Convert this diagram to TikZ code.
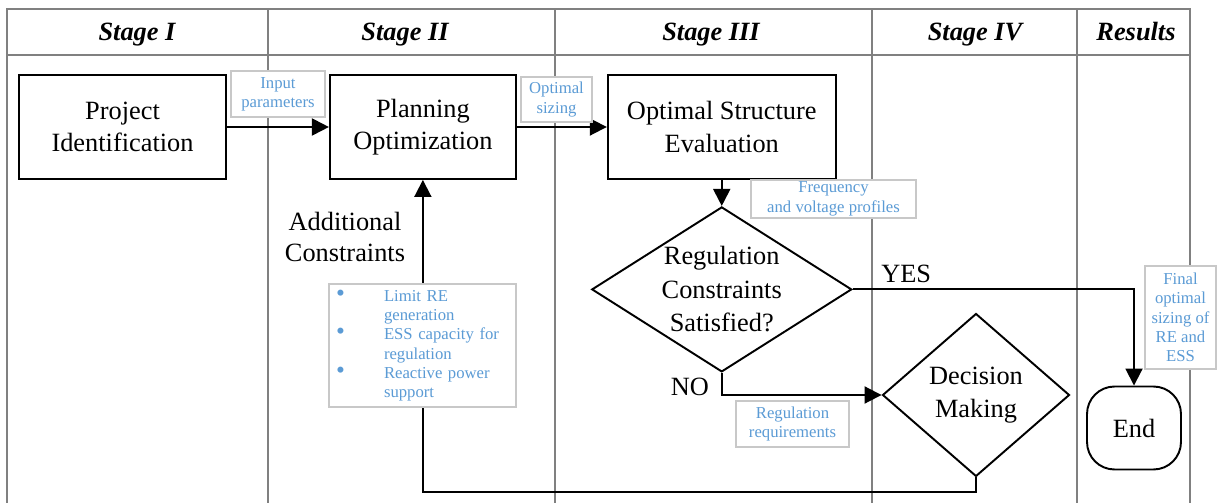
\documentclass[tikz,border=0pt]{standalone}
\usepackage{fontspec}
\setmainfont{Liberation Serif}
\usetikzlibrary{arrows.meta, positioning, shapes.geometric}
\definecolor{noteblue}{RGB}{91,155,213}
\definecolor{lanegray}{RGB}{128,128,128}
\definecolor{notegray}{RGB}{200,200,200}

\begin{document}
\begin{tikzpicture}[
    x=0.02cm, y=-0.02cm,
    lane/.style={draw=lanegray, line width=1pt},
    header/.style={anchor=base, font=\fontsize{15}{18}\selectfont\bfseries\itshape},
    process/.style={
        rectangle, draw, line width=1.1pt, fill=white,
        minimum height=2.08cm, align=center,
        font=\fontsize{15}{18.5}\selectfont
    },
    decision/.style={
        diamond, draw, line width=1.1pt, fill=white,
        inner sep=0pt, align=center,
        font=\fontsize{15}{19}\selectfont
    },
    terminal/.style={
        rectangle, rounded corners=0.55cm, draw, line width=1.1pt,
        minimum width=1.88cm, minimum height=1.66cm,
        font=\fontsize{15}{18}\selectfont
    },
    note/.style={
        rectangle, draw=notegray, line width=1pt, fill=white,
        text=noteblue, align=center, inner sep=1pt,
        font=\fontsize{9.5}{11}\selectfont
    },
    plain/.style={align=center, font=\fontsize{15}{17.6}\selectfont},
    arrow/.style={-{Triangle[length=0.34cm, width=0.34cm]}, line width=1.1pt},
]

\useasboundingbox (0,0) rectangle (1217,503);

% swimlanes
\draw[lane] (7,503) -- (7,9) -- (1190,9) -- (1190,503);
\draw[lane] (7,55) -- (1190,55);
\foreach \x in {268, 555, 872, 1077}
    \draw[lane] (\x,9) -- (\x,503);

\foreach \x/\lbl in {137/Stage I, 405/Stage II, 711/Stage III, 975/Stage IV, 1136/Results}
    \node[header] (head\x) at (\x,41) {\lbl};

% steps
\node[process, minimum width=4.14cm] (ident) at (122.5,127) {Project\\Identification};
\node[process, minimum width=3.72cm, right=2.04cm of ident] (plan) {Planning\\Optimization};
\node[process, minimum width=4.56cm, right=1.8cm of plan] (eval) {Optimal Structure\\Evaluation};

\node[decision, aspect=1.58, minimum width=5.2cm, minimum height=3.3cm, below=0.52cm of eval] (check) {Regulation\\Constraints\\Satisfied?};
\node[decision, minimum width=3.74cm, minimum height=3.26cm] (decide) at (976,395) {Decision\\Making};
\node[terminal] (finish) at (1134,428) {End};

% flow
\draw[arrow] (ident) -- (plan);
\draw[arrow] (plan) -- (eval);
\draw[arrow] (eval) -- (check);
\draw[arrow] (check.east) -| (finish.north) node[plain, pos=0.095, above]{YES};
\draw[arrow] (check.south) |- (decide.west) node[plain, pos=0.5, left=0.12cm, yshift=0.16cm]{NO};
\draw[arrow] (decide.south) -- ++(0,15) -| (plan.south);

\node[plain] (extra) at (345,237) {Additional\\Constraints};

% notes
\node[note, minimum width=1.88cm, minimum height=0.92cm] (inputs) at (278,94) {Input\\parameters};
\node[note, minimum width=1.42cm, minimum height=0.9cm] (sizing) at (556.5,99.5) {Optimal\\sizing};
\node[note, minimum width=3.3cm, minimum height=0.76cm] (profiles) at (833.5,199) {Frequency\\and voltage profiles};
\node[note, minimum width=2.26cm, minimum height=0.92cm] (needs) at (792.5,424) {Regulation\\requirements};
\node[note, minimum width=1.42cm, minimum height=2.06cm] (final) at (1180.5,317.5) {Final\\optimal\\sizing of\\RE and\\ESS};
\node[note, text width=3.46cm, minimum height=2.46cm, align=left, inner xsep=0.14cm] (limits) at (422.5,345.5) {%
    \begin{tabular}{@{}p{0.96cm}@{}l@{}}
    {\Large\textbullet} & Limit RE\\
                & generation\\
    {\Large\textbullet} & ESS capacity for\\
                & regulation\\
    {\Large\textbullet} & Reactive power\\
                & support
    \end{tabular}};

\end{tikzpicture}
\end{document}
